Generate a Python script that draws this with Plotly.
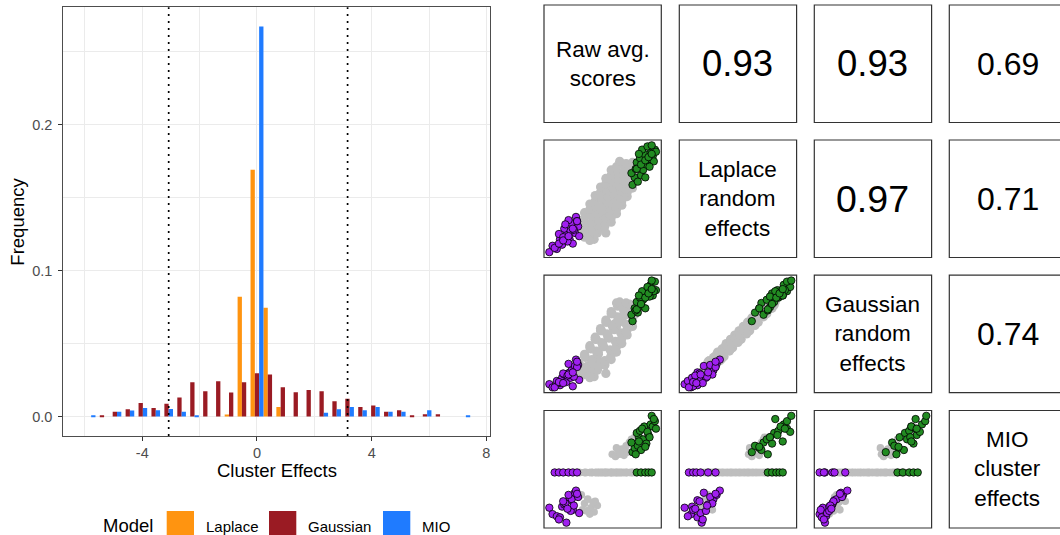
import plotly.graph_objects as go

W, H = 1060, 535
FONT = "Liberation Sans, Arial, Helvetica, sans-serif"

# ---------------- Histogram data ----------------
bin_width = 0.4507
bin_centers = [-5.859, -5.408, -4.958, -4.507, -4.056, -3.606, -3.155, -2.704, -2.254, -1.803,
               -1.352, -0.901, -0.451, 0.000, 0.451, 0.901, 1.352, 1.803, 2.254, 2.704,
               3.155, 3.606, 4.056, 4.507, 4.958, 5.408, 5.859, 6.310, 6.761, 7.211]
laplace_freq = [0, 0, 0, 0, 0, 0, 0, 0, 0, 0,
                0, 0.0014, 0.0820, 0.1690, 0.0744, 0.0066, 0, 0, 0, 0,
                0, 0, 0, 0, 0, 0, 0, 0, 0, 0]
gaussian_freq = [0, 0.0007, 0.0032, 0.0050, 0.0093, 0.0059, 0.0087, 0.0130, 0.0235, 0.0173,
                 0.0242, 0.0164, 0.0235, 0.0296, 0.0287, 0.0201, 0.0166, 0.0182, 0.0173, 0.0105,
                 0.0121, 0.0066, 0.0075, 0.0032, 0.0043, 0.0007, 0.0016, 0.0016, 0, 0]
mio_freq = [0.0009, 0, 0.0032, 0.0041, 0.0059, 0.0043, 0.0052, 0.0032, 0.0007, 0,
            0, 0, 0, 0.2670, 0, 0, 0, 0, 0.0025, 0.0050,
            0.0066, 0.0043, 0.0066, 0.0032, 0.0032, 0, 0.0043, 0, 0, 0.0007]
models = ["Laplace", "Gaussian", "MIO"]
model_colors = ["#FF9410", "#9A1B23", "#1F7BFF"]
cutoffs = [-3.08, 3.16]
x_ticks = [-4, 0, 4, 8]
x_ticklabels = ["-4", "0", "4", "8"]
x_minor = [-6, -2, 2, 6]
y_ticks = [0.0, 0.1, 0.2]
y_ticklabels = ["0.0", "0.1", "0.2"]
y_minor = [0.05, 0.15, 0.25]

# ---------------- Scatter-matrix data (per cluster) ----------------
raw_avg = [
    # low (purple), MIO negative
    0, 3, 7, 10, 12, 16, 14, 19, 21, 18, 24, 25, 27, 22, 28, 15, 20, 26, 9, 13, 23, 17,
    # low (purple), MIO zero
    5, 9, 13, 18, 22, 26,
    # high (green), MIO positive
    78, 80, 77, 83, 84, 86, 82, 88, 85, 91, 89, 93, 87, 95, 92, 97, 99, 96, 100, 98, 81, 90, 94, 84,
    # high (green), MIO zero
    82, 86, 90, 93, 96,
    # mid (gray), MIO positive
    59, 62, 65, 68, 70, 72, 75, 77, 80, 66, 73, 63,
    # mid (gray), MIO negative
    27, 30, 33, 36, 39, 42, 45, 38, 31, 43, 35, 41,
    # mid (gray), MIO zero
    29, 35, 41, 47, 53,
    28, 34, 40, 46, 52,
    28, 34, 40, 46, 52, 58,
    33, 40, 46, 52, 58,
    33, 39, 45, 51, 57, 63,
    38, 44, 50, 57, 63,
    38, 44, 50, 56, 62, 68,
    43, 49, 55, 62, 68,
    43, 49, 55, 61, 67, 73,
    48, 54, 60, 67, 73,
    48, 54, 60, 66, 72, 78,
    53, 59, 65, 72, 78,
    53, 59, 65, 71, 77,
    58, 64, 70, 77,
    58, 64, 70, 76, 80,
    63, 69, 75, 80,
    66, 72, 78,
]
laplace_re = [
    0, 6, 3, 12, 7, 16, 22, 12, 27, 30, 18, 33, 24, 8, 15, 26, 20, 29, 17, 14, 21, 10,
    4, 8, 11, 15, 22, 29,
    63, 70, 74, 66, 80, 72, 84, 77, 88, 82, 92, 87, 96, 93, 99, 90, 96, 100, 94, 85, 78, 70, 80, 92,
    78, 82, 86, 89, 92,
    60, 63, 62, 66, 70, 68, 72, 74, 75, 64, 71, 61,
    20, 22, 14, 24, 17, 12, 18, 11, 26, 26, 19, 22,
    21, 19, 20, 22, 18,
    24, 26, 23, 25, 24,
    29, 27, 28, 30, 27, 28,
    32, 34, 31, 33, 32,
    37, 35, 36, 38, 35, 36,
    40, 42, 39, 41, 40,
    45, 43, 44, 46, 43, 44,
    48, 50, 47, 49, 48,
    53, 51, 52, 54, 51, 52,
    56, 58, 55, 57, 56,
    61, 59, 60, 62, 59, 60,
    64, 66, 63, 65, 64,
    69, 67, 68, 70, 67,
    72, 74, 71, 73,
    77, 75, 76, 78, 75,
    80, 82, 79, 81,
    85, 83, 84,
]
gaussian_re = [
    3, 0, 6, 2, 9, 5, 12, 14, 16, 22, 20, 26, 21, 1, 7, 12, 9, 19, 4, 13, 10, 11,
    0, 5, 4, 12, 14, 24,
    62, 74, 68, 70, 75, 79, 80, 82, 84, 88, 86, 91, 90, 96, 94, 86, 99, 100, 91, 90, 72, 74, 85, 86,
    73, 78, 84, 88, 92,
    58, 60, 61, 64, 67, 68, 71, 73, 76, 62, 70, 57,
    14, 16, 12, 20, 15, 10, 16, 9, 19, 24, 13, 18,
    14, 19, 17, 24, 13,
    22, 18, 25, 19, 21,
    20, 28, 24, 31, 21, 26,
    31, 26, 33, 25, 30,
    29, 36, 31, 38, 27, 33,
    39, 34, 41, 35, 38,
    37, 45, 39, 46, 36, 41,
    47, 42, 49, 43, 46,
    45, 53, 47, 54, 44, 49,
    55, 50, 57, 51, 54,
    53, 61, 55, 62, 52, 57,
    63, 58, 65, 59, 62,
    61, 69, 63, 70, 60,
    71, 66, 73, 67,
    69, 76, 71, 77, 68,
    79, 74, 78, 75,
    80, 79, 77,
]
mio_ce = [
    -33, -39, -41, -42, -32, -47, -30, -26, -25, -21, -19, -17, -23, -35, -38, -29, -36, -20, -44, -27, -31, -34,
    0, 0, 0, 0, 0, 0,
    19, 23, 28, 25, 33, 21, 37, 31, 39, 27, 43, 35, 41, 45, 38, 43, 48, 53, 41, 50, 17, 24, 33, 29,
    0, 0, 0, 0, 0,
    17, 15, 20, 22, 16, 25, 28, 31, 33, 17, 19, 23,
    -23, -21, -29, -25, -33, -37, -31, -39, -35, -27, -36, -28,
] + [0] * 86
point_group = ["low"] * 28 + ["high"] * 29 + ["mid"] * 110
group_colors = {"low": "#A020F0", "high": "#228B22", "mid": "#BEBEBE"}
group_order = ["mid", "low", "high"]

var_labels = ["Raw avg.<br>scores", "Laplace<br>random<br>effects",
              "Gaussian<br>random<br>effects", "MIO<br>cluster<br>effects"]
corr_labels = {(0, 1): "0.93", (0, 2): "0.93", (0, 3): "0.69",
               (1, 2): "0.97", (1, 3): "0.71", (2, 3): "0.74"}
corr_sizes = {(0, 1): 36.5, (0, 2): 36.5, (0, 3): 32,
              (1, 2): 37.5, (1, 3): 32, (2, 3): 32}

# ---------------- Figure ----------------
fig = go.Figure()

for i, (name, col, f) in enumerate(zip(models, model_colors, [laplace_freq, gaussian_freq, mio_freq])):
    fig.add_trace(go.Bar(
        x=bin_centers, y=f, width=bin_width / 3,
        offset=-bin_width / 2 + i * bin_width / 3,
        marker=dict(color=col, line=dict(width=0)),
        name=name, xaxis="x", yaxis="y", showlegend=False))

shapes = []
annotations = []


def note(text, x, y, size, xanchor="center", **kw):
    annotations.append(dict(text=text, x=x, y=y, xref="paper", yref="paper", showarrow=False,
                            xanchor=xanchor, yanchor="middle",
                            font=dict(size=size, color="black", family=FONT), **kw))


for c in cutoffs:
    shapes.append(dict(type="line", xref="x", yref="y domain", x0=c, x1=c, y0=0, y1=1,
                       line=dict(color="black", width=1.7, dash="2px,5px")))

hist_x0, hist_x1 = 63.3, 489.7
hist_y0, hist_y1 = 7.3, 436.0

layout = dict(
    width=W, height=H, margin=dict(l=0, r=0, t=0, b=0),
    paper_bgcolor="white", plot_bgcolor="white",
    font=dict(family=FONT, color="black"),
    barmode="overlay", showlegend=False,
    xaxis=dict(domain=[hist_x0 / W, hist_x1 / W], range=[-6.756, 8.117], anchor="y",
               tickvals=x_ticks, ticktext=x_ticklabels,
               showgrid=True, gridcolor="#EBEBEB", gridwidth=1.1,
               minor=dict(tickvals=x_minor, showgrid=True, gridcolor="#EBEBEB", gridwidth=0.6, ticks=""),
               zeroline=False, showline=True, mirror=True, linecolor="#4D4D4D", linewidth=1,
               ticks="outside", ticklen=4, tickcolor="#333333", tickwidth=1,
               tickfont=dict(size=14.5, color="#4D4D4D", family=FONT)),
    yaxis=dict(domain=[1 - hist_y1 / H, 1 - hist_y0 / H], range=[-0.01334, 0.2802], anchor="x",
               tickvals=y_ticks, ticktext=y_ticklabels,
               showgrid=True, gridcolor="#EBEBEB", gridwidth=1.1,
               minor=dict(tickvals=y_minor, showgrid=True, gridcolor="#EBEBEB", gridwidth=0.6, ticks=""),
               zeroline=False, showline=True, mirror=True, linecolor="#4D4D4D", linewidth=1,
               ticks="outside", ticklen=4, tickcolor="#333333", tickwidth=1,
               ticklabelstandoff=3,
               tickfont=dict(size=14.5, color="#4D4D4D", family=FONT)),
)

note("Cluster Effects", (hist_x0 + hist_x1) / 2 / W, 1 - 470 / H, 18.5)
note("Frequency", 18 / W, 1 - (hist_y0 + hist_y1) / 2 / H, 18.5, textangle=-90)

# legend (manual, ggplot-style keys)
note("Model", 101 / W, 1 - 525 / H, 18.5, xanchor="left")
key_x = [166.7, 269.0, 383.0]
label_x = [203.5, 305.5, 419.5]
for name, col, kx, lx in zip(models, model_colors, key_x, label_x):
    shapes.append(dict(type="rect", xref="paper", yref="paper",
                       x0=kx / W, x1=(kx + 27.3) / W, y0=1 - 540 / H, y1=1 - 511 / H,
                       fillcolor=col, line=dict(width=0)))
    note(name, lx / W, 1 - 526 / H, 15, xanchor="left")

# scatter matrix
variables = [raw_avg, laplace_re, gaussian_re, mio_ce]
col_x0 = [544.0, 679.3, 814.3, 949.3]
row_y0 = [5.0, 140.0, 275.2, 410.5]
pw, ph = 117.3, 117.5

order = [k for g in group_order for k in range(len(point_group)) if point_group[k] == g]

n = 2
for i in range(4):
    for j in range(4):
        x0, y0 = col_x0[j], row_y0[i]
        x1, y1 = x0 + pw, y0 + ph
        shapes.append(dict(type="rect", xref="paper", yref="paper",
                           x0=x0 / W, x1=x1 / W, y0=1 - y1 / H, y1=1 - y0 / H,
                           line=dict(color="#333333", width=1.2), fillcolor="rgba(0,0,0,0)",
                           layer="above"))
        cx, cy = (x0 + x1) / 2 / W, 1 - (y0 + y1) / 2 / H
        if i == j:
            note(var_labels[i], cx, cy, 22.5, align="center")
        elif j > i:
            note(corr_labels[(i, j)], cx, cy, corr_sizes[(i, j)])
        else:
            xs, ys = variables[j], variables[i]
            xmin, xmax = min(xs), max(xs)
            ymin, ymax = min(ys), max(ys)
            xr = [xmin - 0.05 * (xmax - xmin), xmax + 0.05 * (xmax - xmin)]
            yr = [ymin - 0.05 * (ymax - ymin), ymax + 0.05 * (ymax - ymin)]
            gray_size = 7.6 if i == 3 else 9.2
            fig.add_trace(go.Scatter(
                x=[xs[k] for k in order], y=[ys[k] for k in order], mode="markers",
                xaxis=f"x{n}", yaxis=f"y{n}", showlegend=False, hoverinfo="skip",
                marker=dict(
                    size=[gray_size if point_group[k] == "mid" else 7.4 for k in order],
                    color=[group_colors[point_group[k]] for k in order],
                    line=dict(width=[0 if point_group[k] == "mid" else 0.8 for k in order],
                              color="black"),
                    opacity=1)))
            layout[f"xaxis{n}"] = dict(domain=[x0 / W, x1 / W], range=xr, visible=False,
                                       anchor=f"y{n}")
            layout[f"yaxis{n}"] = dict(domain=[1 - y1 / H, 1 - y0 / H], range=yr, visible=False,
                                       anchor=f"x{n}")
            n += 1

layout["shapes"] = shapes
layout["annotations"] = annotations
fig.update_layout(**layout)

fig.write_html("out.html")
